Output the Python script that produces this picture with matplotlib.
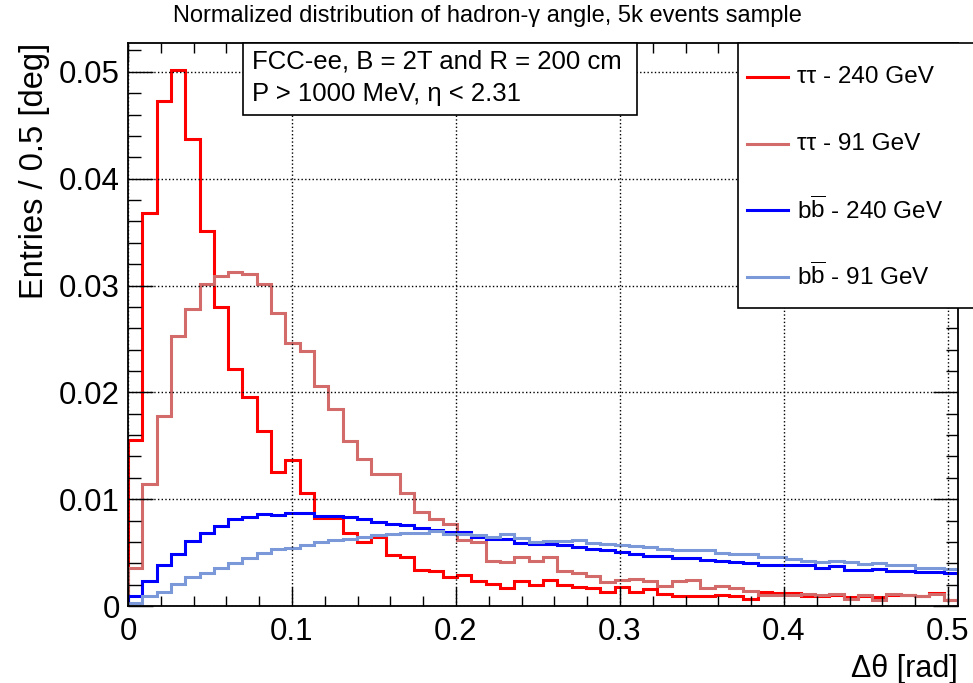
import numpy as np
import matplotlib
matplotlib.use("Agg")
import matplotlib.pyplot as plt
from matplotlib.patches import Rectangle
from matplotlib.lines import Line2D
from matplotlib.ticker import MultipleLocator, FuncFormatter

plt.rcParams['font.family'] = ['Liberation Sans', 'DejaVu Sans']
plt.rcParams['mathtext.fontset'] = 'custom'
plt.rcParams['mathtext.rm'] = 'Liberation Sans'
plt.rcParams['mathtext.it'] = 'Liberation Sans:italic'

# bins of 0.5 deg, stored in rad
BIN_WIDTH_DEG = 0.5

tautau_240 = [0.0155, 0.0368, 0.0473, 0.0502, 0.0437, 0.0351, 0.0280, 0.0222, 0.0196, 0.0164,
              0.0125, 0.0137, 0.0106, 0.0082, 0.0082, 0.0068, 0.0060, 0.0065, 0.0048, 0.0046,
              0.0034, 0.0033, 0.0027, 0.0029, 0.0023, 0.0021, 0.0017, 0.0023, 0.0020, 0.0024,
              0.0020, 0.0018, 0.0017, 0.0013, 0.0018, 0.0013, 0.0016, 0.0011, 0.0009, 0.0009,
              0.0009, 0.0010, 0.0009, 0.0007, 0.0013, 0.0012, 0.0012, 0.0009, 0.0009, 0.0010,
              0.0008, 0.0009, 0.0008, 0.0010, 0.0010, 0.0009, 0.0012, 0.0006]

tautau_91 = [0.0036, 0.0114, 0.0178, 0.0253, 0.0278, 0.0301, 0.0309, 0.0313, 0.0311, 0.0301,
             0.0274, 0.0246, 0.0239, 0.0206, 0.0184, 0.0154, 0.0138, 0.0124, 0.0124, 0.0106,
             0.0088, 0.0081, 0.0077, 0.0062, 0.0060, 0.0042, 0.0041, 0.0046, 0.0042, 0.0046,
             0.0033, 0.0031, 0.0028, 0.0022, 0.0024, 0.0025, 0.0023, 0.0019, 0.0023, 0.0024,
             0.0017, 0.0019, 0.0017, 0.0014, 0.0010, 0.0010, 0.0010, 0.0011, 0.0010, 0.0011,
             0.0007, 0.0010, 0.0006, 0.0011, 0.0010, 0.0009, 0.0011, 0.0006]

bb_240 = [0.0009, 0.0023, 0.0038, 0.0049, 0.0061, 0.0068, 0.0075, 0.0081, 0.0083, 0.0086,
          0.0085, 0.0087, 0.0087, 0.0084, 0.0084, 0.0083, 0.0081, 0.0079, 0.0077, 0.0076,
          0.0073, 0.0071, 0.0069, 0.0069, 0.0065, 0.0063, 0.0063, 0.0059, 0.0058, 0.0058,
          0.0057, 0.0055, 0.0053, 0.0052, 0.0051, 0.0049, 0.0047, 0.0047, 0.0045, 0.0045,
          0.0043, 0.0042, 0.0041, 0.0040, 0.0038, 0.0038, 0.0038, 0.0038, 0.0036, 0.0037,
          0.0034, 0.0034, 0.0035, 0.0033, 0.0033, 0.0032, 0.0032, 0.0031]

bb_91 = [0.0003, 0.0009, 0.0013, 0.0021, 0.0027, 0.0031, 0.0036, 0.0040, 0.0045, 0.0050,
         0.0053, 0.0054, 0.0057, 0.0060, 0.0062, 0.0063, 0.0065, 0.0066, 0.0067, 0.0068,
         0.0068, 0.0070, 0.0067, 0.0067, 0.0066, 0.0065, 0.0067, 0.0064, 0.0060, 0.0061,
         0.0061, 0.0062, 0.0059, 0.0058, 0.0057, 0.0056, 0.0055, 0.0053, 0.0052, 0.0052,
         0.0052, 0.0050, 0.0049, 0.0049, 0.0046, 0.0046, 0.0044, 0.0042, 0.0041, 0.0042,
         0.0041, 0.0039, 0.0040, 0.0038, 0.0038, 0.0036, 0.0036, 0.0035]

series = [tautau_240, tautau_91, bb_240, bb_91]
labels = [u'\u03c4\u03c4 - 240 GeV', u'\u03c4\u03c4 - 91 GeV',
          r'b$\overline{\mathrm{b}}$ - 240 GeV', r'b$\overline{\mathrm{b}}$ - 91 GeV']
colors = ['#ff0000', '#d36b6b', '#0000ff', '#7b98d8']

W, H = 973, 683
fig = plt.figure(figsize=(W / 100, H / 100), dpi=100)
ax = fig.add_axes([128 / W, 1 - 606 / H, (958 - 128) / W, (606 - 43) / H])

edges = np.deg2rad(np.arange(len(tautau_240) + 1) * BIN_WIDTH_DEG)
for vals, col in zip(series, colors):
    ax.stairs(vals, edges, color=col, lw=2.2, baseline=0)

ax.set_xlim(0, edges[-1])
ax.set_ylim(0, 0.0527)

ax.xaxis.set_major_locator(MultipleLocator(0.1))
ax.xaxis.set_minor_locator(MultipleLocator(0.02))
ax.yaxis.set_major_locator(MultipleLocator(0.01))
ax.yaxis.set_minor_locator(MultipleLocator(0.002))
fmt = FuncFormatter(lambda v, p: '%g' % round(v, 4))
ax.xaxis.set_major_formatter(fmt)
ax.yaxis.set_major_formatter(fmt)
ax.tick_params(which='both', direction='in', top=True, right=True, labelsize=22.5, width=1)
ax.tick_params(axis='x', which='major', length=14, pad=8)
ax.tick_params(axis='x', which='minor', length=7)
ax.tick_params(axis='y', which='major', length=18, pad=6)
ax.tick_params(axis='y', which='minor', length=9)
for s in ax.spines.values():
    s.set_linewidth(1.3)

ax.grid(True, which='major', linestyle=':', color='black', lw=1)

ax.set_xlabel(u'\u0394\u03b8 [rad]', fontsize=22, loc='right')
ax.xaxis.set_label_coords(1.0, -0.085)
ax.xaxis.label.set_va('top')
ax.set_ylabel('Entries / 0.5 [deg]', fontsize=23.5, loc='top')
ax.yaxis.set_label_coords(-0.094, 1.0)

fig.text(487 / W, 1 - 16 / H, u'Normalized distribution of hadron-\u03b3 angle, 5k events sample',
         ha='center', va='center', fontsize=17)

# info box
fig.add_artist(Rectangle((243 / W, 1 - 115 / H), (637 - 243) / W, 72 / H, transform=fig.transFigure,
                         facecolor='white', edgecolor='black', lw=1.2))
fig.text(252 / W, 1 - 61 / H, 'FCC-ee, B = 2T and R = 200 cm', fontsize=18.5, va='center')
fig.text(252 / W, 1 - 94 / H, u'P > 1000 MeV, \u03b7 < 2.31', fontsize=18.5, va='center')

# legend box
fig.add_artist(Rectangle((738 / W, 1 - 308 / H), 300 / W, (308 - 43) / H, transform=fig.transFigure,
                         facecolor='white', edgecolor='black', lw=1.2))
for i, (lab, col) in enumerate(zip(labels, colors)):
    y = 1 - (77 + 66.5 * i) / H
    fig.add_artist(Line2D([747 / W, 788 / W], [y, y], transform=fig.transFigure, color=col, lw=2.2))
    fig.text(797 / W, y, lab, fontsize=17.5, va='center')

fig.savefig('out.png', dpi=100)
